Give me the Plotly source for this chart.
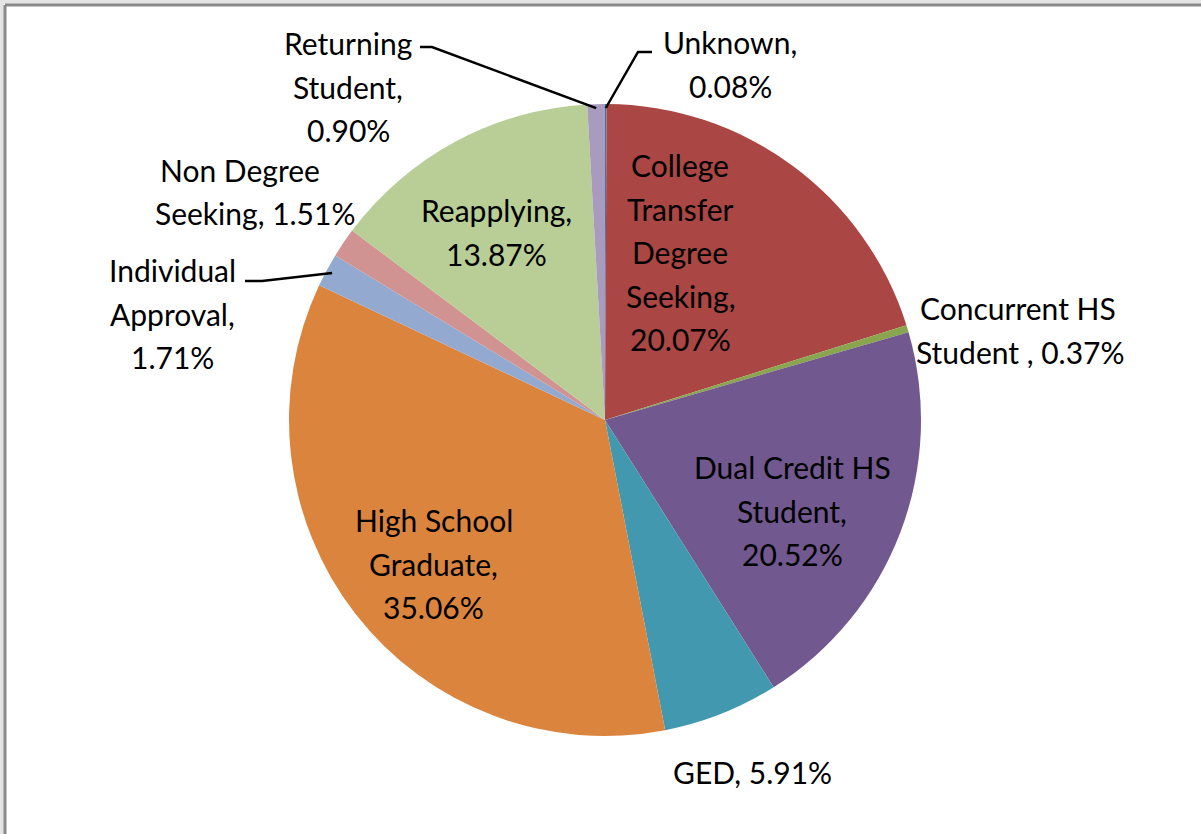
import math
import plotly.graph_objects as go

# ---- data (order as plotted, clockwise from 12 o'clock) ----
categories = ["Unknown", "College Transfer Degree Seeking", "Concurrent HS Student",
              "Dual Credit HS Student", "GED", "High School Graduate",
              "Individual Approval", "Non Degree Seeking", "Reapplying", "Returning Student"]
percents = [0.08, 20.07, 0.37, 20.52, 5.91, 35.06, 1.71, 1.51, 13.87, 0.90]
label_lines = [
    ["Unknown,", "0.08%"],
    ["College", "Transfer", "Degree", "Seeking,", "20.07%"],
    ["Concurrent HS", "Student , 0.37%"],
    ["Dual Credit HS", "Student,", "20.52%"],
    ["GED, 5.91%"],
    ["High School", "Graduate,", "35.06%"],
    ["Individual", "Approval,", "1.71%"],
    ["Non Degree", "Seeking, 1.51%"],
    ["Reapplying,", "13.87%"],
    ["Returning", "Student,", "0.90%"],
]
colors = ["#4572A7", "#AA4643", "#89A54E", "#71588F", "#4198AF", "#DB843D",
          "#93A9CF", "#D19392", "#B9CD96", "#A99BBD"]

# ---- layout config (pixels) ----
W, H = 1201, 834
CX, CY, R = 605, 420, 316
LINE_H = 43.5
FONT = dict(family="Lato, 'Open Sans', sans-serif", size=30, color="#000000")
# label block: (center x, first-line center y) in px
label_pos = [
    (730, 42), (680, 165), (1018, 308), (792, 467), (752, 772),
    (434, 520), (172, 270), (247, 170), (496, 210), (348, 43),
]
label_x_per_line = {7: [240, 255], 2: [1018, 1020]}
# leader lines: label-side elbow points (px), end point computed from data
leaders = {
    9: [(420, 47), (432, 47)],
    0: [(652, 52), (638, 52)],
    6: [(245, 281), (262, 281)],
}
leader_r = {9: R - 4, 0: R - 4, 6: R - 6}


def px(x):
    return x / W


def py(y):
    return 1 - y / H


fig = go.Figure()
fig.add_trace(go.Pie(
    labels=categories, values=percents, sort=False, direction="clockwise",
    rotation=0, marker=dict(colors=colors, line=dict(width=0)),
    textinfo="none", hoverinfo="label+percent", showlegend=False,
    domain=dict(x=[px(CX - R), px(CX + R)], y=[py(CY + R), py(CY - R)]),
))

annotations = []
for i, lines in enumerate(label_lines):
    x0, y0 = label_pos[i]
    for j, t in enumerate(lines):
        xx = label_x_per_line.get(i, [x0] * len(lines))[j]
        annotations.append(dict(
            x=px(xx), y=py(y0 + j * LINE_H), xref="paper", yref="paper",
            text=t, showarrow=False, xanchor="center", yanchor="middle", font=FONT))

shapes = []
# frame and outer strip
shapes.append(dict(type="rect", xref="paper", yref="paper", x0=0, x1=px(4), y0=0, y1=1,
                   fillcolor="#E4E4E4", line=dict(width=0), layer="below"))
shapes.append(dict(type="rect", xref="paper", yref="paper", x0=0, x1=1, y0=py(4), y1=1,
                   fillcolor="#E4E4E4", line=dict(width=0), layer="below"))
shapes.append(dict(type="line", xref="paper", yref="paper", x0=px(5), x1=px(5), y0=0, y1=py(5),
                   line=dict(color="#8A8A8A", width=3)))
shapes.append(dict(type="line", xref="paper", yref="paper", x0=px(5), x1=1, y0=py(5), y1=py(5),
                   line=dict(color="#8A8A8A", width=3)))

total = sum(percents)
cum = 0
mids = []
for v in percents:
    mids.append((cum + v / 2) / total * 360)
    cum += v
for i, pts in leaders.items():
    th = math.radians(mids[i])
    ex = CX + leader_r[i] * math.sin(th)
    ey = CY - leader_r[i] * math.cos(th)
    allp = pts + [(ex, ey)]
    path = "M " + " L ".join(f"{px(a)},{py(b)}" for a, b in allp)
    shapes.append(dict(type="path", xref="paper", yref="paper", path=path,
                       line=dict(color="#000000", width=2.5)))

fig.update_layout(
    width=W, height=H, margin=dict(l=0, r=0, t=0, b=0),
    paper_bgcolor="#FFFFFF", plot_bgcolor="#FFFFFF",
    annotations=annotations, shapes=shapes,
)
fig.write_html("out.html", config={"displayModeBar": False},
               post_script="document.body.style.margin='0';document.body.style.overflow='hidden';")
